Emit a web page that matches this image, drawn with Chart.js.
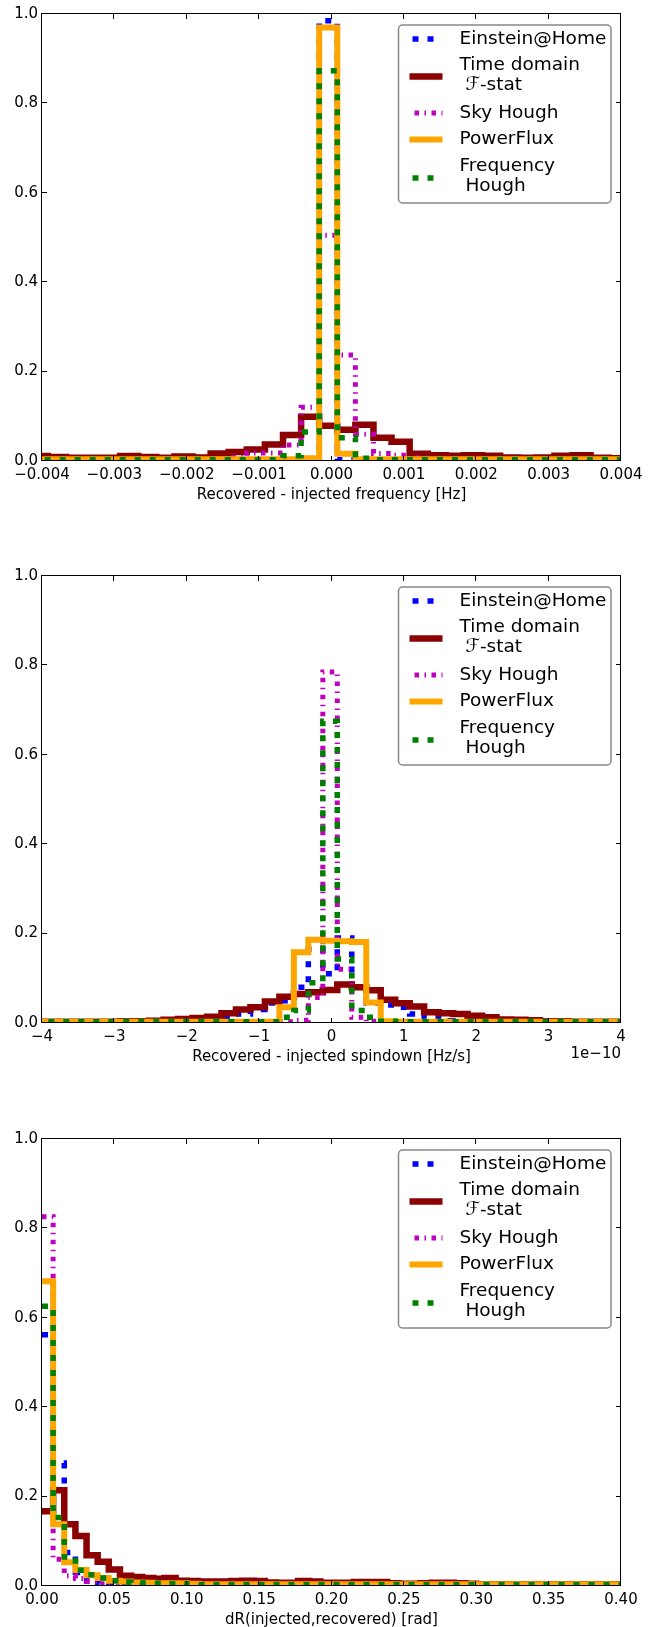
<!DOCTYPE html>
<html>
<head>
<meta charset="utf-8">
<title>Recovered - injected histograms</title>
<script src="https://cdn.jsdelivr.net/npm/chart.js@4.4.1/dist/chart.umd.min.js"></script>
<style>
  html, body { margin: 0; padding: 0; background: #ffffff; }
  body { position: relative; width: 659px; height: 1627px; overflow: hidden; }
  .panel { position: absolute; left: 0; width: 659px; height: 503px; }
</style>
</head>
<body>
<div class="panel" style="top: 0px;"><canvas id="freqChart"></canvas></div>
<div class="panel" style="top: 562px;"><canvas id="spinChart"></canvas></div>
<div class="panel" style="top: 1125px;"><canvas id="skyChart"></canvas></div>
<script>
const seriesNames = ['Einstein@Home', 'Time domain\n \u2131-stat', 'Sky Hough', 'PowerFlux', 'Frequency\n Hough'];

const yTicks = [0, 0.2, 0.4, 0.6, 0.8, 1.0];

// ---- top panel: frequency difference ----
const freqTicks = [-0.004, -0.003, -0.002, -0.001, 0, 0.001, 0.002, 0.003, 0.004];
const freqEdges = [
  -0.00417, -0.00392, -0.00367, -0.00342, -0.00317, -0.00292, -0.00267, -0.00242, -0.00217, -0.00192,
  -0.00167, -0.00142, -0.00117, -0.00092, -0.00067, -0.00042, -0.00017, 0.00008, 0.00033, 0.00058,
  0.00083, 0.00108, 0.00133, 0.00158, 0.00183, 0.00208, 0.00233, 0.00258, 0.00283, 0.00308,
  0.00333, 0.00358, 0.00383, 0.00408, 0.00433
];
const freqEinstein = [
  0.002, 0.002, 0.002, 0.002, 0.002, 0.002, 0.002, 0.002, 0.002, 0.002,
  0.002, 0.002, 0.002, 0.002, 0.002, 0.005, 0.985, 0.003, 0.002, 0.002,
  0.002, 0.002, 0.002, 0.002, 0.002, 0.002, 0.002, 0.002, 0.002, 0.002,
  0.002, 0.002, 0.002, 0.002
];
const freqTimeDomain = [
  0.011, 0.009, 0.007, 0.007, 0.007, 0.011, 0.009, 0.007, 0.010, 0.008,
  0.017, 0.020, 0.026, 0.037, 0.058, 0.099, 0.079, 0.070, 0.081, 0.052,
  0.043, 0.016, 0.013, 0.012, 0.013, 0.012, 0.008, 0.007, 0.008, 0.012,
  0.013, 0.007, 0.006, 0.006
];
const freqSkyHough = [
  0.003, 0.003, 0.003, 0.003, 0.003, 0.003, 0.003, 0.003, 0.003, 0.003,
  0.003, 0.008, 0.018, 0.018, 0.036, 0.120, 0.505, 0.237, 0.060, 0.017,
  0.013, 0.007, 0.003, 0.003, 0.003, 0.003, 0.003, 0.003, 0.003, 0.003,
  0.003, 0.003, 0.003, 0.003
];
const freqPowerFlux = [
  0.004, 0.004, 0.004, 0.004, 0.004, 0.004, 0.004, 0.004, 0.004, 0.004,
  0.004, 0.004, 0.004, 0.004, 0.004, 0.006, 0.970, 0.016, 0.004, 0.004,
  0.004, 0.004, 0.004, 0.004, 0.004, 0.004, 0.004, 0.004, 0.004, 0.004,
  0.004, 0.004, 0.004, 0.004
];
const freqFreqHough = [
  0.003, 0.003, 0.003, 0.003, 0.003, 0.003, 0.003, 0.003, 0.003, 0.003,
  0.003, 0.003, 0.003, 0.003, 0.012, 0.065, 0.873, 0.052, 0.006, 0.003,
  0.003, 0.003, 0.003, 0.003, 0.003, 0.003, 0.003, 0.003, 0.003, 0.003,
  0.003, 0.003, 0.003, 0.003
];

// ---- middle panel: spindown difference (units of 1e-10 Hz/s) ----
const spinTicks = [-4, -3, -2, -1, 0, 1, 2, 3, 4];
const spinEdges = [
  -4.12, -3.92, -3.72, -3.52, -3.32, -3.12, -2.92, -2.72, -2.52, -2.32,
  -2.12, -1.92, -1.72, -1.52, -1.32, -1.12, -0.92, -0.72, -0.52, -0.32,
  -0.12, 0.08, 0.28, 0.48, 0.68, 0.88, 1.08, 1.28, 1.48, 1.68,
  1.88, 2.08, 2.28, 2.48, 2.68, 2.88, 3.08, 3.28, 3.48, 3.68,
  3.88, 4.08
];
const spinEinstein = [
  0.002, 0.002, 0.002, 0.002, 0.002, 0.002, 0.002, 0.002, 0.002, 0.002,
  0.002, 0.003, 0.005, 0.012, 0.020, 0.030, 0.045, 0.050, 0.080, 0.165,
  0.110, 0.190, 0.080, 0.045, 0.040, 0.035, 0.020, 0.012, 0.005, 0.003,
  0.002, 0.002, 0.002, 0.002, 0.002, 0.002, 0.002, 0.002, 0.002, 0.002,
  0.002
];
const spinTimeDomain = [
  0.003, 0.003, 0.003, 0.003, 0.003, 0.003, 0.004, 0.004, 0.005, 0.007,
  0.009, 0.011, 0.014, 0.022, 0.030, 0.035, 0.048, 0.059, 0.065, 0.069,
  0.074, 0.086, 0.080, 0.073, 0.052, 0.044, 0.037, 0.024, 0.022, 0.020,
  0.016, 0.013, 0.008, 0.007, 0.006, 0.004, 0.004, 0.003, 0.003, 0.003,
  0.003
];
const spinSkyHough = [
  0.003, 0.003, 0.003, 0.003, 0.003, 0.003, 0.003, 0.003, 0.003, 0.003,
  0.003, 0.003, 0.003, 0.003, 0.003, 0.003, 0.003, 0.003, 0.006, 0.057,
  0.785, 0.120, 0.013, 0.004, 0.003, 0.003, 0.003, 0.003, 0.003, 0.003,
  0.003, 0.003, 0.003, 0.003, 0.003, 0.003, 0.003, 0.003, 0.003, 0.003,
  0.003
];
const spinPowerFlux = [
  0.003, 0.003, 0.003, 0.003, 0.003, 0.003, 0.003, 0.003, 0.003, 0.003,
  0.003, 0.003, 0.003, 0.003, 0.003, 0.003, 0.003, 0.035, 0.158, 0.186,
  0.184, 0.183, 0.181, 0.046, 0.004, 0.003, 0.003, 0.003, 0.003, 0.003,
  0.003, 0.003, 0.003, 0.003, 0.003, 0.003, 0.003, 0.003, 0.003, 0.003,
  0.003
];
const spinFreqHough = [
  0.003, 0.003, 0.003, 0.003, 0.003, 0.003, 0.003, 0.003, 0.003, 0.003,
  0.003, 0.003, 0.003, 0.003, 0.003, 0.003, 0.003, 0.013, 0.028, 0.090,
  0.675, 0.143, 0.028, 0.013, 0.004, 0.003, 0.003, 0.003, 0.003, 0.003,
  0.003, 0.003, 0.003, 0.003, 0.003, 0.003, 0.003, 0.003, 0.003, 0.003,
  0.003
];

// ---- bottom panel: sky position distance ----
const skyTicks = [0, 0.05, 0.1, 0.15, 0.2, 0.25, 0.3, 0.35, 0.4];
const skyEdges = [
  0, 0.00769, 0.01538, 0.02308, 0.03077, 0.03846, 0.04615, 0.05385, 0.06154, 0.06923,
  0.07692, 0.08462, 0.09231, 0.1, 0.10769, 0.11538, 0.12308, 0.13077, 0.13846, 0.14615,
  0.15385, 0.16154, 0.16923, 0.17692, 0.18462, 0.19231, 0.2, 0.20769, 0.21538, 0.22308,
  0.23077, 0.23846, 0.24615, 0.25385, 0.26154, 0.26923, 0.27692, 0.28462, 0.29231, 0.3,
  0.30769, 0.31538, 0.32308, 0.33077, 0.33846, 0.34615, 0.35385, 0.36154, 0.36923, 0.37692,
  0.38462, 0.39231, 0.4
];
const skyEinstein = [
  0.562, 0.275, 0.075, 0.030, 0.012, 0.006, 0.004, 0.002, 0.002, 0.002,
  0.002, 0.002, 0.002, 0.002, 0.002, 0.002, 0.002, 0.002, 0.002, 0.002,
  0.002, 0.002, 0.002, 0.002, 0.002, 0.002, 0.002, 0.002, 0.002, 0.002,
  0.002, 0.002, 0.002, 0.002, 0.002, 0.002, 0.002, 0.002, 0.002, 0.002,
  0.002, 0.002, 0.002, 0.002, 0.002, 0.002, 0.002, 0.002, 0.002, 0.002,
  0.002, 0.002
];
const skyTimeDomain = [
  0.167, 0.214, 0.138, 0.112, 0.069, 0.054, 0.037, 0.023, 0.020, 0.018,
  0.016, 0.018, 0.012, 0.011, 0.010, 0.010, 0.010, 0.011, 0.012, 0.011,
  0.008, 0.007, 0.007, 0.011, 0.010, 0.007, 0.007, 0.007, 0.009, 0.009,
  0.009, 0.006, 0.005, 0.005, 0.006, 0.007, 0.007, 0.006, 0.005, 0.004,
  0.004, 0.004, 0.004, 0.004, 0.004, 0.004, 0.004, 0.004, 0.004, 0.004,
  0.004, 0.004
];
const skySkyHough = [
  0.826, 0.060, 0.023, 0.017, 0.010, 0.005, 0.002, 0.002, 0.002, 0.002,
  0.002, 0.002, 0.002, 0.002, 0.002, 0.002, 0.002, 0.002, 0.002, 0.002,
  0.002, 0.002, 0.002, 0.002, 0.002, 0.002, 0.002, 0.002, 0.002, 0.002,
  0.002, 0.002, 0.002, 0.002, 0.002, 0.002, 0.002, 0.002, 0.002, 0.002,
  0.002, 0.002, 0.002, 0.002, 0.002, 0.002, 0.002, 0.002, 0.002, 0.002,
  0.002, 0.002
];
const skyPowerFlux = [
  0.682, 0.138, 0.053, 0.036, 0.024, 0.018, 0.012, 0.010, 0.008, 0.007,
  0.006, 0.006, 0.006, 0.005, 0.004, 0.004, 0.004, 0.004, 0.004, 0.004,
  0.004, 0.004, 0.004, 0.004, 0.004, 0.004, 0.004, 0.004, 0.004, 0.004,
  0.004, 0.004, 0.004, 0.004, 0.004, 0.004, 0.004, 0.004, 0.004, 0.004,
  0.004, 0.004, 0.004, 0.004, 0.004, 0.004, 0.004, 0.004, 0.004, 0.004,
  0.004, 0.004
];
const skyFreqHough = [
  0.626, 0.153, 0.065, 0.035, 0.025, 0.018, 0.012, 0.009, 0.007, 0.006,
  0.006, 0.005, 0.005, 0.003, 0.003, 0.003, 0.003, 0.003, 0.003, 0.003,
  0.003, 0.003, 0.003, 0.003, 0.003, 0.003, 0.003, 0.003, 0.003, 0.003,
  0.003, 0.003, 0.003, 0.003, 0.003, 0.003, 0.003, 0.003, 0.003, 0.003,
  0.003, 0.003, 0.003, 0.003, 0.003, 0.003, 0.003, 0.003, 0.003, 0.003,
  0.003, 0.003
];

// line styles, same order as seriesNames
const seriesStyles = [
  { color: '#0000ff', width: 5.5, dash: [6, 9] },
  { color: '#8b0000', width: 6.5, dash: [] },
  { color: '#bf00bf', width: 5, dash: [4.5, 5.5, 1.5, 5.5] },
  { color: '#ffa500', width: 6, dash: [] },
  { color: '#008000', width: 5.5, dash: [6, 9] }
];

Chart.defaults.font.family = "'DejaVu Sans', 'Bitstream Vera Sans', sans-serif";
Chart.defaults.color = '#000';

function fmtTick(v, decimals) {
  return Number(v).toFixed(decimals).replace('-', '\u2212');
}

// histogram outline: each value holds from its left edge to the next edge
function stepPoints(edges, values) {
  const pts = values.map((v, i) => ({ x: edges[i], y: v }));
  pts.push({ x: edges[values.length], y: values[values.length - 1] });
  return pts;
}

// axes frame + inward ticks on all four sides
const framePlugin = {
  id: 'frameTicks',
  afterDatasetsDraw(chart) {
    const { ctx, chartArea: a, scales } = chart;
    ctx.save();
    ctx.strokeStyle = '#000';
    ctx.lineWidth = 1;
    ctx.beginPath();
    scales.x.ticks.forEach(t => {
      const px = Math.round(scales.x.getPixelForValue(t.value)) - 0.5;
      ctx.moveTo(px, a.bottom); ctx.lineTo(px, a.bottom - 5);
      ctx.moveTo(px, a.top); ctx.lineTo(px, a.top + 5);
    });
    scales.y.ticks.forEach(t => {
      const py = Math.round(scales.y.getPixelForValue(t.value)) - 0.5;
      ctx.moveTo(a.left, py); ctx.lineTo(a.left + 5, py);
      ctx.moveTo(a.right, py); ctx.lineTo(a.right - 5, py);
    });
    ctx.stroke();
    ctx.strokeRect(a.left - 0.5, a.top - 0.5, a.right - a.left, a.bottom - a.top);
    ctx.restore();
  }
};

// boxed legend with two-line labels
const legendPlugin = {
  id: 'boxLegend',
  afterDraw(chart) {
    const { ctx, chartArea: a } = chart;
    const bx = a.left + 356.5, by = a.top + 11, bw = 212.5, bh = 178;
    const handleY = [14, 51.5, 88, 114.5, 153];
    ctx.save();
    ctx.beginPath();
    ctx.roundRect(bx, by, bw, bh, 4);
    ctx.fillStyle = '#fff';
    ctx.fill();
    ctx.strokeStyle = '#888';
    ctx.lineWidth = 1.5;
    ctx.stroke();
    chart.data.datasets.forEach((ds, i) => {
      const y = by + handleY[i];
      ctx.beginPath();
      ctx.strokeStyle = ds.borderColor;
      ctx.lineWidth = ds.borderWidth;
      ctx.lineCap = 'butt';
      ctx.setLineDash(ds.borderDash);
      ctx.lineDashOffset = ds.borderDash.length ? 12 : 0;
      ctx.moveTo(bx + 11, y);
      ctx.lineTo(bx + 44, y);
      ctx.stroke();
      ctx.setLineDash([]);
      const lines = ds.label.split('\n');
      ctx.fillStyle = '#000';
      ctx.font = "18.5px 'DejaVu Sans', sans-serif";
      ctx.textAlign = 'left';
      ctx.textBaseline = 'middle';
      if (lines.length === 1) {
        ctx.fillText(lines[0], bx + 61, y);
      } else {
        ctx.fillText(lines[0], bx + 61, y - 11.5);
        ctx.fillText(lines[1], bx + 61, y + 8.5);
      }
    });
    ctx.restore();
  }
};

function makePanel(id, edges, seriesList, xTicks, decimals, title, offsetText) {
  const datasets = seriesList.map((values, i) => ({
    label: seriesNames[i],
    data: stepPoints(edges, values),
    borderColor: seriesStyles[i].color,
    borderWidth: seriesStyles[i].width,
    borderDash: seriesStyles[i].dash,
    borderCapStyle: 'butt',
    borderJoinStyle: 'miter',
    stepped: true,
    pointRadius: 0,
    fill: false,
    clip: 0,
    order: seriesList.length - 1 - i
  }));

  const offsetPlugin = {
    id: 'offsetLabel',
    afterDraw(chart) {
      if (!offsetText) return;
      const { ctx, chartArea: a } = chart;
      ctx.save();
      ctx.font = "15px 'DejaVu Sans', sans-serif";
      ctx.fillStyle = '#000';
      ctx.textAlign = 'right';
      ctx.textBaseline = 'middle';
      ctx.fillText(offsetText, a.right, a.bottom + 31);
      ctx.restore();
    }
  };

  return new Chart(document.getElementById(id), {
    type: 'line',
    data: { datasets },
    options: {
      responsive: true,
      maintainAspectRatio: false,
      animation: false,
      events: [],
      layout: { padding: { top: 14, right: 38, bottom: 0, left: 0 } },
      plugins: { legend: { display: false }, tooltip: { enabled: false } },
      scales: {
        x: {
          type: 'linear',
          min: xTicks[0],
          max: xTicks[xTicks.length - 1],
          grid: { display: false, drawTicks: false },
          border: { display: false },
          afterBuildTicks: s => { s.ticks = xTicks.map(v => ({ value: v })); },
          afterFit: s => { s.height = 42; },
          ticks: {
            autoSkip: false, maxRotation: 0, padding: 5, color: '#000',
            font: { size: 15 },
            callback: v => fmtTick(v, decimals)
          },
          title: { display: true, text: title, color: '#000', font: { size: 15, lineHeight: 1 }, padding: 0 }
        },
        y: {
          type: 'linear',
          min: 0,
          max: 1,
          grid: { display: false, drawTicks: false },
          border: { display: false },
          afterBuildTicks: s => { s.ticks = yTicks.map(v => ({ value: v })); },
          afterFit: s => { s.width = 42; },
          ticks: {
            autoSkip: false, padding: 4, color: '#000',
            font: { size: 15 },
            callback: v => fmtTick(v, 1)
          }
        }
      }
    },
    plugins: [framePlugin, legendPlugin, offsetPlugin]
  });
}

makePanel('freqChart', freqEdges,
  [freqEinstein, freqTimeDomain, freqSkyHough, freqPowerFlux, freqFreqHough],
  freqTicks, 3, 'Recovered - injected frequency [Hz]');
makePanel('spinChart', spinEdges,
  [spinEinstein, spinTimeDomain, spinSkyHough, spinPowerFlux, spinFreqHough],
  spinTicks, 0, 'Recovered - injected spindown [Hz/s]', '1e\u221210');
makePanel('skyChart', skyEdges,
  [skyEinstein, skyTimeDomain, skySkyHough, skyPowerFlux, skyFreqHough],
  skyTicks, 2, 'dR(injected,recovered) [rad]');
</script>
</body>
</html>
